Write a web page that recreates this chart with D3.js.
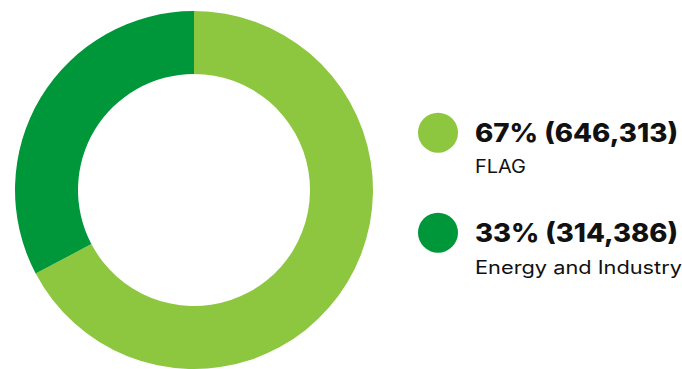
<!DOCTYPE html>
<html><head><meta charset="utf-8">
<script src="https://cdn.jsdelivr.net/npm/d3@7"></script>
<style>html,body{margin:0;padding:0;background:#fff;}</style>
</head><body>
<script>
const categories = ["FLAG", "Energy and Industry"];
const values = [646313, 314386];
const percentLabels = ["67%", "33%"];
const colors = ["#8dc63f", "#00973a"];

const W = 682, H = 369;
const svg = d3.select("body").append("svg").attr("width", W).attr("height", H);

const cx = 194, cy = 190, rOuter = 179, rInner = 116;
const pie = d3.pie().sort(null).value(d => d.v);
const arcs = pie(categories.map((c, i) => ({c, v: values[i], i})));
const arc = d3.arc().innerRadius(rInner).outerRadius(rOuter);
const color = d3.scaleOrdinal().domain(categories).range(colors);

svg.append("g").attr("transform", `translate(${cx},${cy})`)
  .selectAll("path").data(arcs).join("path")
  .attr("d", arc).attr("fill", d => color(d.data.c));

const fmt = d3.format(",");
const lg = svg.append("g");
const items = lg.selectAll("g").data(categories).join("g")
  .attr("transform", (d, i) => `translate(438,${132.7 + i * 100})`);
items.append("circle").attr("r", 20).attr("fill", d => color(d));
items.append("text").attr("x", 37).attr("y", 9)
  .attr("font-family", "Inter, 'Noto Sans', sans-serif").attr("font-weight", 800)
  .attr("font-size", 25.3).attr("fill", "#111")
  .attr("textLength", 203).attr("lengthAdjust", "spacingAndGlyphs")
  .text((d, i) => `${percentLabels[i]} (${fmt(values[i])})`);
items.append("text").attr("x", 37).attr("y", (d, i) => i === 0 ? 40.6 : 41.3)
  .attr("font-family", "Inter, 'Noto Sans', sans-serif").attr("font-weight", 400)
  .attr("font-size", 18.3).attr("fill", "#111")
  .attr("textLength", (d, i) => i === 0 ? 51 : 207).attr("lengthAdjust", "spacingAndGlyphs")
  .text(d => d);
</script>
</body></html>
